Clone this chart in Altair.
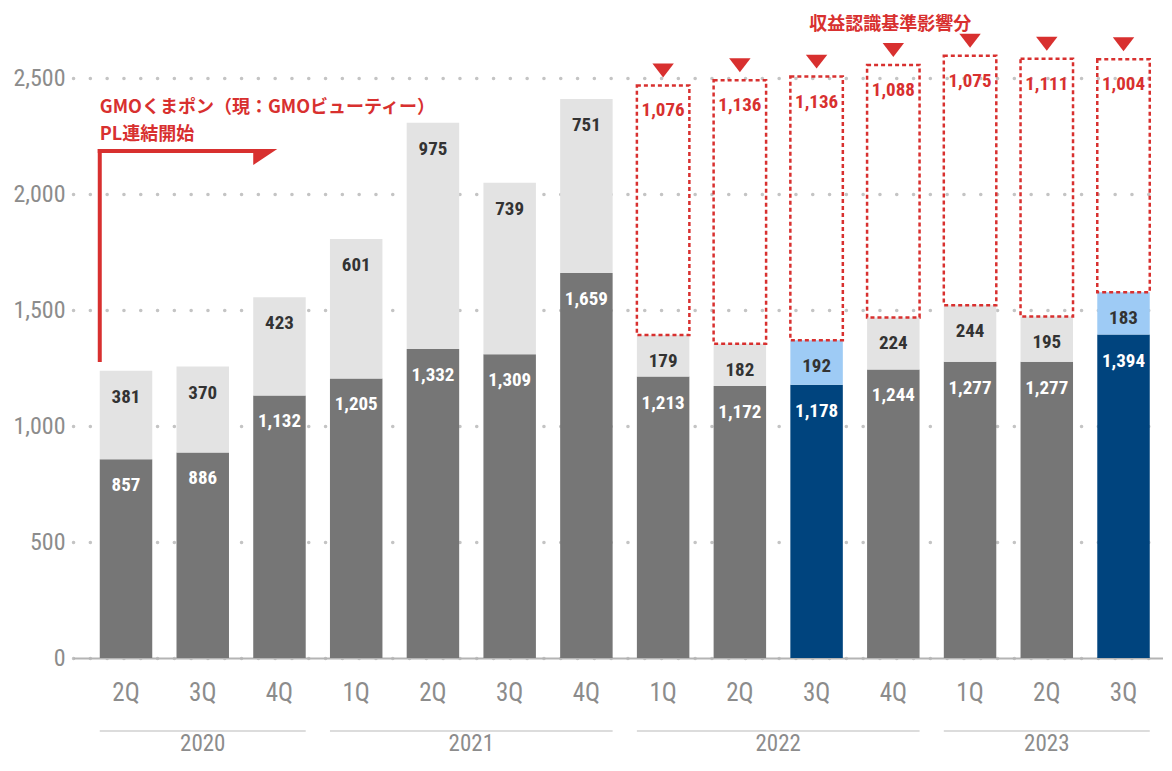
import altair as alt
import pandas as pd

# ---- data ----
quarters = ["2Q", "3Q", "4Q", "1Q", "2Q", "3Q", "4Q", "1Q", "2Q", "3Q", "4Q", "1Q", "2Q", "3Q"]
years = [2020, 2020, 2020, 2021, 2021, 2021, 2021, 2022, 2022, 2022, 2022, 2023, 2023, 2023]
base = [857, 886, 1132, 1205, 1332, 1309, 1659, 1213, 1172, 1178, 1244, 1277, 1277, 1394]
mid = [381, 370, 423, 601, 975, 739, 751, 179, 182, 192, 224, 244, 195, 183]
impact = [None, None, None, None, None, None, None, 1076, 1136, 1136, 1088, 1075, 1111, 1004]
highlight = [False, False, False, False, False, False, False, False, False, True, False, False, False, True]

title_text = "収益認識基準影響分"
note_lines = ["GMOくまポン（現：GMOビューティー）", "PL連結開始"]
y_ticks = [0, 500, 1000, 1500, 2000, 2500]

keys = [f"{y} {q}" for y, q in zip(years, quarters)]
df = pd.DataFrame({
    "key": keys,
    "base": base,
    "mid": mid,
    "midtop": [b + m for b, m in zip(base, mid)],
    "hl": highlight,
})
imp_rows = [(k, b + m, v, b + m + v) for k, b, m, v in zip(keys, base, mid, impact) if v is not None]
df_imp = pd.DataFrame(imp_rows, columns=["key", "low", "impact", "top"])

groups = []
for y in sorted(set(years)):
    ks = [k for k, yy in zip(keys, years) if yy == y]
    groups.append({"year": str(y), "first": ks[0], "last": ks[-1], "n": len(ks),
                   "center": ks[(len(ks) - 1) // 2]})
df_groups = pd.DataFrame(groups)
df_odd = df_groups[df_groups["n"] % 2 == 1]
df_even = df_groups[df_groups["n"] % 2 == 0]

# ---- style ----
GRAY = "#767676"
LGRAY = "#e3e3e3"
NAVY = "#00447e"
LBLUE = "#9ecbf5"
RED = "#d8302f"
AXISGRAY = "#8c8c8c"
NUMFONT = "Liberation Sans Narrow, Roboto Condensed, Roboto, sans-serif"
JPFONT = "Noto Sans CJK JP"

W, H = 1090, 580
PI, PO, AL = 0.316, 0.2607, 0.669
STEP = W / (len(keys) - PI + 2 * PO)

xscale = alt.Scale(domain=keys, paddingInner=PI, paddingOuter=PO, align=AL)
xaxis = alt.Axis(title=None, labelExpr="split(datum.label, ' ')[1]", ticks=False, tickSize=0,
                 labelPadding=22, labelFontSize=25, labelColor=AXISGRAY, labelFont=NUMFONT,
                 domainColor="#b4b4b4", domainWidth=2, grid=False, labelAngle=0)
yscale = alt.Scale(domain=[0, 2500], nice=False, zero=True)
yaxis = alt.Axis(title=None, values=y_ticks, format=",d", domain=False, ticks=False,
                 labelPadding=8, labelFontSize=24, labelColor=AXISGRAY, labelFont=NUMFONT,
                 grid=True, gridColor="#c4c4c4", gridDash=[0.1, 16.7], gridWidth=3.5, gridCap="round")


def X(field="key", **kw):
    return alt.X(f"{field}:N", scale=xscale, axis=xaxis, **kw)


def Y(field, **kw):
    return alt.Y(f"{field}:Q", scale=yscale, axis=yaxis, **kw)


bars_base = alt.Chart(df).mark_bar().encode(
    x=X(), y=Y("base"), y2=alt.datum(0),
    color=alt.condition("datum.hl", alt.value(NAVY), alt.value(GRAY)),
)
bars_mid = alt.Chart(df).mark_bar().encode(
    x=X(), y=Y("base"), y2="midtop:Q",
    color=alt.condition("datum.hl", alt.value(LBLUE), alt.value(LGRAY)),
)
boxes = alt.Chart(df_imp).mark_bar(fill="white", fillOpacity=0, stroke=RED, strokeWidth=2.5,
                                   strokeDash=[4, 3]).encode(
    x=X(), y=Y("low"), y2="top:Q",
)
tri = alt.Chart(df_imp).mark_point(shape="M-1,-0.65 L1,-0.65 L0,0.65 Z", size=460, filled=True,
                                   color=RED, opacity=1, strokeWidth=0, yOffset=-15).encode(
    x=X(), y=Y("top"),
)
lab_base = alt.Chart(df).mark_text(dy=26, baseline="middle", font=NUMFONT, fontWeight="bold",
                                   fontSize=19, color="white").encode(
    x=X(), y=Y("base"), text=alt.Text("base:Q", format=",d"),
)
lab_mid = alt.Chart(df).mark_text(dy=26, baseline="middle", font=NUMFONT, fontWeight="bold",
                                  fontSize=19, color="#333333").encode(
    x=X(), y=Y("midtop"), text=alt.Text("mid:Q", format=",d"),
)
lab_imp = alt.Chart(df_imp).mark_text(dy=25, baseline="middle", font=NUMFONT, fontWeight="bold",
                                      fontSize=19, color=RED).encode(
    x=X(), y=Y("top"), text=alt.Text("impact:Q", format=",d"),
)

# year grouping under the axis
year_rules = alt.Chart(df_groups).mark_rule(color="#dcdcdc", strokeWidth=2).encode(
    x=X("first", bandPosition=0), x2=alt.X2("last:N", bandPosition=1), y=alt.value(H + 73),
)
year_odd = alt.Chart(df_odd).mark_text(baseline="middle", font=NUMFONT, fontSize=23,
                                       color=AXISGRAY).encode(
    x=X("center"), y=alt.value(H + 86), text="year:N",
)
year_even = alt.Chart(df_even).mark_text(baseline="middle", font=NUMFONT, fontSize=23,
                                         color=AXISGRAY, dx=PI * STEP / 2).encode(
    x=X("center", bandPosition=1), y=alt.value(H + 86), text="year:N",
)

# annotations
df_title = pd.DataFrame({"key": ["2022 4Q"], "t": [title_text]})
title = alt.Chart(df_title).mark_text(font=JPFONT, fontWeight="bold", fontSize=18, color=RED,
                                      dx=-3, baseline="middle").encode(
    x=X(), y=alt.datum(2730), text="t:N",
)
df_note = pd.DataFrame({"key": [keys[0]], "t": ["\n".join(note_lines)]})
note = alt.Chart(df_note).mark_text(font=JPFONT, fontWeight="bold", fontSize=18, color=RED,
                                    align="left", baseline="middle", lineBreak="\n",
                                    lineHeight=27).encode(
    x=X(bandPosition=0), y=alt.datum(2371), text="t:N",
)
df_arrow = pd.DataFrame({"key": [keys[0]], "key2": [keys[2]]})
arrow_v = alt.Chart(df_arrow).mark_rule(color=RED, strokeWidth=4, strokeCap="square").encode(
    x=X(bandPosition=0), y=alt.datum(1285), y2=alt.datum(2185),
)
arrow_h = alt.Chart(df_arrow).mark_rule(color=RED, strokeWidth=4, strokeCap="square").encode(
    x=X(bandPosition=0), x2=alt.X2("key2:N", bandPosition=0), y=alt.datum(2185),
)
arrow_head = alt.Chart(df_arrow).mark_point(shape="M0,-0.17 L2,-0.17 L0,1.17 Z", size=576,
                                            filled=True, color=RED, opacity=1, strokeWidth=0).encode(
    x=X("key2", bandPosition=0), y=alt.datum(2185),
)

chart = alt.layer(
    bars_base, bars_mid, boxes, tri, lab_base, lab_mid, lab_imp,
    year_rules, year_odd, year_even, title, note, arrow_v, arrow_h, arrow_head,
).properties(
    width=W, height=H,
    padding={"left": 65, "top": 70, "right": 0, "bottom": 100},
    autosize=alt.AutoSizeParams(type="none"),
    background="white",
).configure_view(stroke=None)

chart.save("out.html", embed_options={"renderer": "svg", "actions": False})
